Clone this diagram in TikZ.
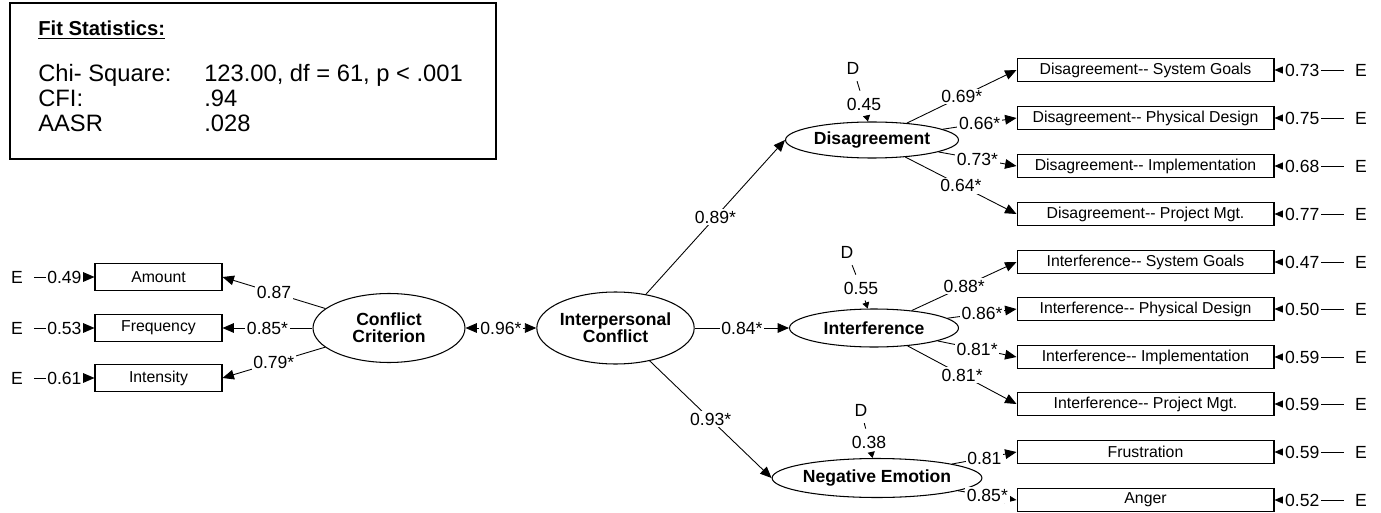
\documentclass[tikz,border=0pt]{standalone}
\usepackage{fontspec}
\setmainfont{Liberation Sans}
\usepackage{tikz}
\usetikzlibrary{arrows.meta}
\usetikzlibrary{shapes}

\begin{document}
\begin{tikzpicture}[x=0.02cm, y=-0.02cm, line width=0.5pt,
        every node/.style={font=\fontsize{10}{11}\selectfont},
        stat/.style={anchor=base west, font=\fontsize{13.5}{15}\selectfont},
        ind/.style={draw, line width=0.6pt, inner sep=0pt, font=\fontsize{9}{10}\selectfont},
        lat/.style={draw, ellipse, line width=0.6pt, inner sep=0pt, align=center, font=\fontsize{10}{9.5}\selectfont\bfseries},
        lbl/.style={fill=white, inner sep=1pt},
        err/.style={inner sep=0.22cm},
        arr/.style={-{Triangle[length=6.5pt,width=5.5pt]}},
        darr/.style={{Triangle[length=6.5pt,width=5.5pt]}-{Triangle[length=6.5pt,width=5.5pt]}},
        sarr/.style={-{Triangle[length=3.5pt,width=4pt]}}]
        \useasboundingbox (0,0) rectangle (1381,513);

        \node [draw, line width=1pt, inner sep=0pt, minimum width=9.72cm, minimum height=3.12cm] (fitbox) at (253,81) {};
        \node [anchor=base west, font=\fontsize{11.5}{14}\selectfont\bfseries] (fithead) at (32,36) {\underline{Fit Statistics:}};
        \node [stat] (chi) at (32,82) {Chi- Square:};
        \node [stat] (chival) at (198,82) {123.00, df = 61, p < .001};
        \node [stat] (cfi) at (32,107) {CFI:};
        \node [stat] (cfival) at (198,107) {.94};
        \node [stat] (aasr) at (32,132) {AASR};
        \node [stat] (aasrval) at (198,132) {.028};

        \node [lat, minimum width=3.04cm, minimum height=1.38cm] (cc) at (389,328) {Conflict\\Criterion};
        \node [lat, minimum width=3.1cm, minimum height=1.44cm] (ic) at (615.5,328) {Interpersonal\\Conflict};
        \node [lat, minimum width=3.46cm, minimum height=0.72cm] (dis) at (872,140) {Disagreement};
        \node [lat, minimum width=3.38cm, minimum height=0.76cm] (int) at (874,328) {Interference};
        \node [lat, minimum width=3.38cm, minimum height=0.78cm] (neg) at (877,478) {Negative Emotion};

        \foreach \n/\y/\t/\l/\e in {amt/277/Amount/0.87/0.49, frq/328/Frequency/0.85*/0.53, its/378/Intensity/0.79*/0.61} {
            \node [ind, minimum width=2.54cm, minimum height=0.54cm] (\n) at (158.5,\y) {\t};
            \node [err] (e\n) at (17,\y) {E};
            \draw [arr] (e\n) -- node [lbl] {\e} (\n);
            \draw [arr] (cc) -- node [lbl] {\l} (\n.east);
        }

        \draw [darr] (cc) -- node [lbl] {0.96*} (ic);
        \draw [arr] (ic) -- node [lbl] {0.89*} (dis.west);
        \draw [arr] (ic) -- node [lbl] {0.84*} (int);
        \draw [arr] (ic) -- node [lbl] {0.93*} (neg.west);

        \foreach \n/\y/\t/\l/\e in {1/70/System Goals/0.69*/0.73, 2/118/Physical Design/0.66*/0.75,
                3/166/Implementation/0.73*/0.68, 4/214/Project Mgt./0.64*/0.77} {
            \node [ind, minimum width=5.14cm, minimum height=0.47cm] (dis\n) at (1145.5,\y) {Disagreement-{}- \t};
            \node [err] (edis\n) at (1361,\y) {E};
            \draw [arr] (dis) -- node [lbl] {\l} (dis\n.west);
            \draw [arr] (edis\n) -- node [lbl, pos=0.6] {\e} (dis\n.east);
        }
        \foreach \n/\y/\t/\l/\e in {1/262/System Goals/0.88*/0.47, 2/309/Physical Design/0.86*/0.50,
                3/357/Implementation/0.81*/0.59, 4/404/Project Mgt./0.81*/0.59} {
            \node [ind, minimum width=5.14cm, minimum height=0.47cm] (int\n) at (1145.5,\y) {Interference-{}- \t};
            \node [err] (eint\n) at (1361,\y) {E};
            \draw [arr] (int) -- node [lbl] {\l} (int\n.west);
            \draw [arr] (eint\n) -- node [lbl, pos=0.6] {\e} (int\n.east);
        }
        \foreach \n/\y/\t/\l/\e in {fru/452/Frustration/0.81/0.59, ang/500/Anger/0.85*/0.52} {
            \node [ind, minimum width=5.14cm, minimum height=0.47cm] (\n) at (1145.5,\y) {\t};
            \node [err] (e\n) at (1361,\y) {E};
            \draw [arr] (neg) -- node [lbl] {\l} (\n.west);
            \draw [arr] (e\n) -- node [lbl, pos=0.6] {\e} (\n.east);
        }

        \node (ddis) at (853,68) {D};
        \node (vdis) at (864,104) {0.45};
        \draw [shorten <=0.5pt, shorten >=0.5pt] (ddis) -- (vdis);
        \draw [sarr] (vdis) -- (dis);
        \node (dint) at (847,252) {D};
        \node (vint) at (861,288) {0.55};
        \draw [shorten <=0.5pt, shorten >=0.5pt] (dint) -- (vint);
        \draw [sarr] (vint) -- (int);
        \node (dneg) at (861,410) {D};
        \node (vneg) at (869,442) {0.38};
        \draw [shorten <=0.5pt, shorten >=0.5pt] (dneg) -- (vneg);
        \draw [sarr] (vneg) -- (neg);
    \end{tikzpicture}
\end{document}
